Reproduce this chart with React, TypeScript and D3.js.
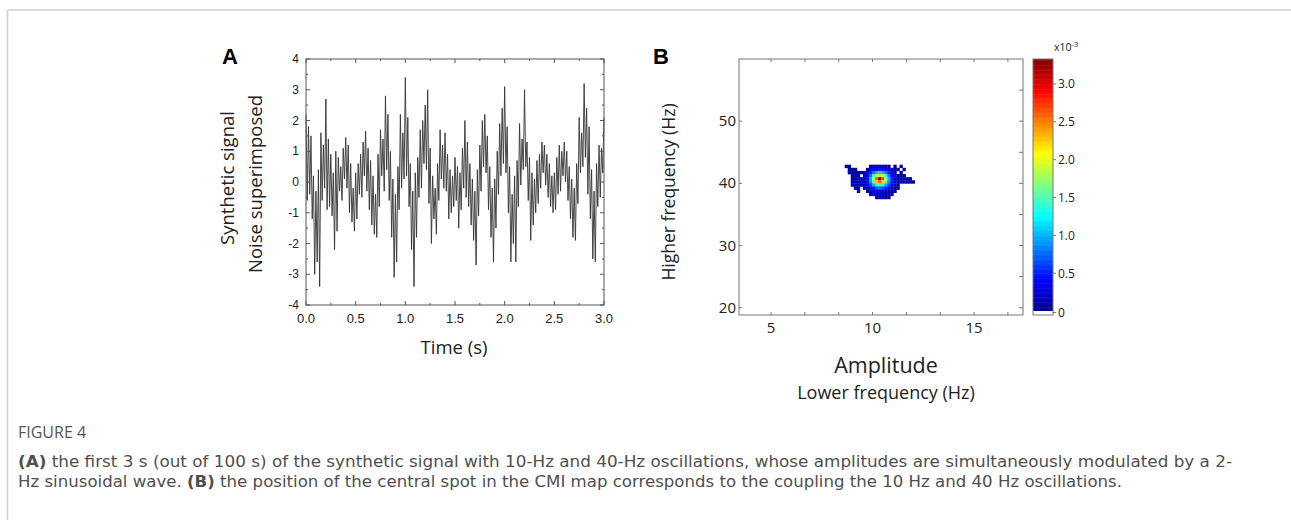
import React from "react";
import * as d3 from "d3";

// ---------- Panel A data: synthetic signal (sampled every 0.0125 s, 0..3 s) ----------
const SIGNAL_DT = 0.0125;
const signalValues: number[] = [
  2.2, -0.6, 1.8, -0.4, 1.5, -1.2, 0.2, -3.0,
  -0.3, -2.6, 0.4, -3.4, 1.6, -0.6, 1.2, -0.2,
  2.7, -0.9, 1.4, -0.8, 0.9, -1.1, 0.3, -2.2,
  1.0, -1.6, 0.8, -0.3, 0.5, -0.6, 1.1, 0.1,
  1.45, -0.2, 1.2, -1.0, 0.6, -1.3, -0.2, -1.6,
  0.3, -1.2, 0.6, -0.4, 0.9, -0.5, 1.3, 0.2,
  1.65, -0.3, 1.1, -0.9, 0.7, -1.4, 0.2, -1.7,
  -0.4, -1.8, 0.9, -0.8, 1.7, 0.2, 1.4, -0.3,
  2.8, 0.4, 2.2, -0.6, 1.0, -1.8, 0.1, -3.1,
  -0.4, -2.6, 0.5, -0.9, 2.2, -0.2, 1.6, 0.1,
  3.4, 0.2, 2.1, -0.8, 0.6, -2.2, -0.3, -3.4,
  0.3, -1.8, 0.8, -0.5, 1.7, -0.2, 2.0, 0.6,
  2.5, 0.4, 3.0, -0.7, 1.1, -2.0, 0.2, -1.2,
  -0.2, -1.7, 0.6, -0.6, 1.7, 0.1, 1.2, -0.2,
  1.6, -0.3, 0.9, -1.2, 0.4, -1.0, 0.2, -0.8,
  0.8, -0.6, 0.5, -1.5, 0.3, -0.9, 1.1, -0.2,
  2.0, -0.5, 1.3, -0.8, 0.6, -1.4, 0.1, -1.9,
  -0.3, -2.7, 0.4, -1.1, 1.2, -0.3, 2.0, 0.5,
  2.2, 0.3, 1.5, -0.9, 0.5, -1.8, -0.2, -2.6,
  0.1, -1.5, 1.0, -0.4, 1.9, 0.2, 2.4, 0.6,
  3.1, 0.3, 1.8, -1.0, 0.5, -2.6, -0.4, -2.0,
  0.2, -2.6, 0.7, -0.8, 1.9, -0.1, 1.4, 0.4,
  3.0, 0.5, 1.3, -0.6, 0.8, -1.9, 0.3, -1.4,
  0.1, -1.0, 0.7, -0.7, 0.9, -0.2, 1.3, 0.3,
  1.2, -0.1, 0.9, -0.5, 0.6, -0.8, 0.2, -1.0,
  0.3, -0.9, 0.8, -0.4, 1.2, -0.3, 1.0, 0.2,
  1.3, 0.0, 1.0, -0.6, 0.5, -1.2, 0.1, -1.8,
  -0.2, -1.9, 0.6, -0.7, 2.1, 0.3, 1.6, 0.5,
  3.2, 0.8, 2.4, -0.4, 1.8, -1.2, 0.4, -2.5,
  -0.3, -2.6, 0.6, -0.8, 1.2, -0.5, 1.1, 0.3,
  2.1,
];
const xTicksA = [0, 0.5, 1, 1.5, 2, 2.5, 3];
const yTicksA = [-4, -3, -2, -1, 0, 1, 2, 3, 4];

// ---------- Panel B data: CMI map (values x10^-3) ----------
const cmiLowFreq = [8.7, 8.85, 9.0, 9.15, 9.3, 9.45, 9.6, 9.75, 9.9, 10.05, 10.2, 10.35, 10.5, 10.65, 10.8, 10.95, 11.1, 11.25, 11.4, 11.55, 11.7, 11.85, 12.0];
const cmiHighFreq = [42.75, 42.25, 41.75, 41.25, 40.75, 40.25, 39.75, 39.25, 38.75, 38.25, 37.75];
const cmiValues: number[][] = [
  [0.1, 0.1, 0, 0, 0, 0, 0, 0, 0.1, 0.1, 0.15, 0.1, 0.1, 0.15, 0.1, 0, 0.1, 0, 0.1, 0, 0, 0, 0],
  [0, 0.1, 0.1, 0.15, 0, 0, 0, 0.1, 0.2, 0.3, 0.4, 0.45, 0.4, 0.3, 0.2, 0.15, 0.1, 0.1, 0, 0.1, 0, 0, 0],
  [0, 0.1, 0.15, 0.1, 0.1, 0.15, 0.1, 0.3, 0.5, 0.8, 1.0, 1.1, 1.0, 0.8, 0.5, 0.3, 0.15, 0, 0.1, 0, 0, 0, 0],
  [0, 0, 0.1, 0.2, 0.1, 0, 0.15, 0.4, 0.8, 1.4, 1.9, 2.2, 1.9, 1.4, 0.8, 0.4, 0.2, 0.1, 0.1, 0.1, 0, 0, 0],
  [0, 0, 0.1, 0.1, 0.2, 0.15, 0.2, 0.5, 1.0, 1.8, 2.6, 3.3, 2.7, 1.8, 1.0, 0.5, 0.2, 0.1, 0.15, 0.1, 0.1, 0.1, 0],
  [0, 0, 0.15, 0.1, 0.1, 0.2, 0.15, 0.45, 0.9, 1.6, 2.3, 2.6, 2.2, 1.6, 0.9, 0.45, 0.2, 0.15, 0.1, 0.1, 0.1, 0.1, 0.1],
  [0, 0, 0.1, 0.15, 0.2, 0.1, 0.15, 0.35, 0.6, 1.0, 1.4, 1.5, 1.3, 1.0, 0.6, 0.35, 0.2, 0.1, 0, 0, 0, 0, 0],
  [0, 0, 0, 0.1, 0.1, 0, 0.1, 0.2, 0.35, 0.5, 0.7, 0.75, 0.65, 0.5, 0.35, 0.2, 0.1, 0.1, 0, 0, 0, 0, 0],
  [0, 0, 0, 0, 0.1, 0, 0, 0.1, 0.15, 0.25, 0.3, 0.35, 0.3, 0.2, 0.15, 0.1, 0.1, 0, 0, 0, 0, 0, 0],
  [0, 0, 0, 0, 0, 0, 0, 0, 0.1, 0.15, 0.15, 0.2, 0.15, 0.1, 0.1, 0.1, 0, 0, 0, 0, 0, 0, 0],
  [0, 0, 0, 0, 0, 0, 0, 0, 0, 0, 0.1, 0.1, 0.1, 0.1, 0.1, 0, 0, 0, 0, 0, 0, 0, 0],
];
const xTicksB = [5, 10, 15];
const yTicksB = [20, 30, 40, 50];
const colorbarTicks = [0, 0.5, 1.0, 1.5, 2.0, 2.5, 3.0];
const colorbarMax = 3.33;

const jetStops = ["#00008f", "#0000ff", "#00ffff", "#ffff00", "#ff0000", "#800000"];
const jetPos = [0, 0.125, 0.375, 0.625, 0.875, 1];

const LABEL_FONT = "'Open Sans', 'Noto Sans', sans-serif";
const TICK_FONT = "'Liberation Sans', Arial, sans-serif";
const CAPTION_FONT = "'DejaVu Sans', 'Noto Sans', sans-serif";

export default function App() {
  // ---- Panel A scales
  const xA = d3.scaleLinear().domain([0, 3]).range([306, 604]);
  const yA = d3.scaleLinear().domain([-4, 4]).range([305, 59]);
  const line = d3
    .line<number>()
    .x((_, i) => xA(i * SIGNAL_DT))
    .y((d) => yA(d));

  const minorXA = d3.range(0, 3.001, 0.25);
  const minorYA = d3.range(-4, 4.001, 0.5);

  // ---- Panel B scales
  const xB = d3.scaleLinear().domain([3.42, 17.41]).range([739, 1023]);
  const yB = d3.scaleLinear().domain([18.83, 60]).range([315, 59]);
  const colorScale = d3
    .scaleLinear<string>()
    .domain(jetPos.map((p) => p * colorbarMax))
    .range(jetStops)
    .clamp(true);
  const cbY = d3.scaleLinear().domain([0, colorbarMax]).range([311, 59]);
  const topTicksB = d3.range(0, 8).map((k) => 5 + (k * 5) / 3);
  const rightTicksB = d3.range(20, 56, 5);
  const dx = 0.075;
  const dy = 0.25;

  const cbSteps = d3.range(0, 200).map((k) => (k / 200) * colorbarMax);
  const cbStep = colorbarMax / 200;

  return (
    <svg width={1291} height={520} style={{ display: "block", position: "absolute", left: 0, top: 0 }}>
      <rect x={0} y={0} width={1291} height={520} fill="#fff" />
      {/* outer frame */}
      <line x1={7.5} y1={10} x2={1291} y2={10} stroke="#cfcfcf" strokeWidth={1.5} />
      <line x1={7.5} y1={10} x2={7.5} y2={520} stroke="#cfcfcf" strokeWidth={1.5} />

      {/* ===== Panel A ===== */}
      <text x={230} y={64} fontFamily={TICK_FONT} fontWeight="bold" fontSize={22} textAnchor="middle" fill="#000">A</text>
      <path d={line(signalValues) || ""} fill="none" stroke="#333" strokeWidth={0.9} />
      <rect x={306} y={59} width={298} height={246} fill="none" stroke="#555" strokeWidth={1} />
      {minorXA.map((t) => {
        const major = Math.abs(t * 2 - Math.round(t * 2)) < 1e-6;
        const L = major ? 4 : 2;
        return (
          <g key={"xa" + t} stroke="#555" strokeWidth={1}>
            <line x1={xA(t)} x2={xA(t)} y1={305} y2={305 - L} />
            <line x1={xA(t)} x2={xA(t)} y1={59} y2={59 + L} />
          </g>
        );
      })}
      {minorYA.map((v) => {
        const major = Math.abs(v - Math.round(v)) < 1e-6;
        const L = major ? 4 : 2;
        return (
          <g key={"ya" + v} stroke="#555" strokeWidth={1}>
            <line x1={306} x2={306 + L} y1={yA(v)} y2={yA(v)} />
            <line x1={604} x2={604 - L} y1={yA(v)} y2={yA(v)} />
          </g>
        );
      })}
      {yTicksA.map((v) => (
        <text key={"yl" + v} x={299} y={yA(v) + 4} textAnchor="end" fontFamily={TICK_FONT} fontSize={12} fill="#222">
          {String(v)}
        </text>
      ))}
      {xTicksA.map((t) => (
        <text key={"xl" + t} x={xA(t)} y={323} textAnchor="middle" fontFamily={TICK_FONT} fontSize={13} fill="#222">
          {t.toFixed(1)}
        </text>
      ))}
      <text x={454} y={354} textAnchor="middle" fontFamily={LABEL_FONT} fontSize={18.5} fill="#222">Time (s)</text>
      <text transform="translate(234,178) rotate(-90)" textAnchor="middle" fontFamily={LABEL_FONT} fontSize={18.5} fill="#222">Synthetic signal</text>
      <text transform="translate(262,184) rotate(-90)" textAnchor="middle" fontFamily={LABEL_FONT} fontSize={18.5} fill="#222">Noise superimposed</text>

      {/* ===== Panel B ===== */}
      <text x={661} y={64} fontFamily={TICK_FONT} fontWeight="bold" fontSize={22} textAnchor="middle" fill="#000">B</text>
      {cmiValues.map((row, r) =>
        row.map((v, c) =>
          v > 0 ? (
            <rect
              key={`c${r}-${c}`}
              x={xB(cmiLowFreq[c] - dx)}
              y={yB(cmiHighFreq[r] + dy)}
              width={xB(cmiLowFreq[c] + dx) - xB(cmiLowFreq[c] - dx) + 0.3}
              height={yB(cmiHighFreq[r] - dy) - yB(cmiHighFreq[r] + dy) + 0.3}
              fill={colorScale(v)}
            />
          ) : null
        )
      )}
      <rect x={739} y={59} width={284} height={256} fill="none" stroke="#777" strokeWidth={1} />
      {topTicksB.map((t) => (
        <g key={"tb" + t} stroke="#777" strokeWidth={1}>
          <line x1={xB(t)} x2={xB(t)} y1={59} y2={62} />
          <line x1={xB(t)} x2={xB(t)} y1={315} y2={312} />
        </g>
      ))}
      {rightTicksB.map((v) => (
        <line key={"rb" + v} x1={1023} x2={1019} y1={yB(v)} y2={yB(v)} stroke="#777" strokeWidth={1} />
      ))}
      {yTicksB.map((v) => (
        <line key={"lb" + v} x1={739} x2={742} y1={yB(v)} y2={yB(v)} stroke="#777" strokeWidth={1} />
      ))}
      {yTicksB.map((v) => (
        <text key={"ylb" + v} x={736} y={yB(v) + 5} textAnchor="end" fontFamily={LABEL_FONT} fontSize={15} fill="#222">
          {String(v)}
        </text>
      ))}
      {xTicksB.map((v) => (
        <text key={"xlb" + v} x={xB(v)} y={333} textAnchor="middle" fontFamily={LABEL_FONT} fontSize={15} fill="#222">
          {String(v)}
        </text>
      ))}
      <text transform="translate(675,192) rotate(-90)" textAnchor="middle" fontFamily={LABEL_FONT} fontSize={17.5} fill="#222">Higher frequency (Hz)</text>
      <text x={886} y={373} textAnchor="middle" fontFamily={LABEL_FONT} fontSize={21.5} fill="#222">Amplitude</text>
      <text x={886} y={399} textAnchor="middle" fontFamily={LABEL_FONT} fontSize={18} fill="#222">Lower frequency (Hz)</text>

      {/* colorbar */}
      {cbSteps.map((v) => (
        <rect key={"cb" + v} x={1033} y={cbY(v + cbStep)} width={20} height={cbY(v) - cbY(v + cbStep) + 0.5} fill={colorScale(v + cbStep / 2)} />
      ))}
      <rect x={1033} y={311} width={20} height={4} fill="#fff" />
      <rect x={1033} y={59} width={20} height={256} fill="none" stroke="#777" strokeWidth={1} />
      {colorbarTicks.map((v) => (
        <g key={"cbt" + v}>
          <line x1={1053} x2={1056} y1={cbY(v) + (v === 0 ? 1.5 : 0)} y2={cbY(v) + (v === 0 ? 1.5 : 0)} stroke="#777" />
          <text x={1058} y={cbY(v) + 4.5 + (v === 0 ? 1.5 : 0)} fontFamily={LABEL_FONT} fontSize={12} fill="#222">
            {v === 0 ? "0" : v.toFixed(1)}
          </text>
        </g>
      ))}
      <text x={1054} y={51} fontFamily={LABEL_FONT} fontSize={10.5} fill="#222">
        x10<tspan dy={-4} fontSize={7.5}>-3</tspan>
      </text>

      {/* ===== Caption ===== */}
      <text x={18} y={438} fontFamily={LABEL_FONT} fontSize={16} fill="#555">FIGURE 4</text>
      <text x={18} y={467} fontFamily={CAPTION_FONT} fontSize={15} fill="#4f4f4f" textLength={1214} lengthAdjust="spacingAndGlyphs">
        <tspan fontWeight="bold">(A)</tspan> the first 3 s (out of 100 s) of the synthetic signal with 10-Hz and 40-Hz oscillations, whose amplitudes are simultaneously modulated by a 2-
      </text>
      <text x={18} y={487} fontFamily={CAPTION_FONT} fontSize={15} fill="#4f4f4f" textLength={1104} lengthAdjust="spacingAndGlyphs">
        Hz sinusoidal wave. <tspan fontWeight="bold">(B)</tspan> the position of the central spot in the CMI map corresponds to the coupling the 10 Hz and 40 Hz oscillations.
      </text>
    </svg>
  );
}
